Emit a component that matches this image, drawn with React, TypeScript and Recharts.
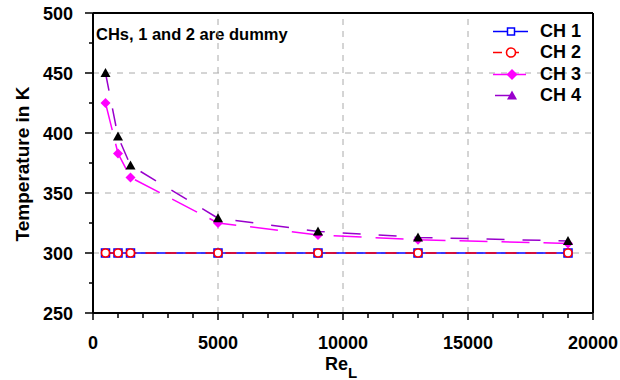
import { LineChart, Line, XAxis, YAxis, ReferenceLine, Legend, Customized } from "recharts";

const FONT = "'Liberation Sans', Arial, sans-serif";

const reL = [500, 1000, 1500, 5000, 9000, 13000, 19000];
const ch1 = [300, 300, 300, 300, 300, 300, 300];
const ch2 = [300, 300, 300, 300, 300, 300, 300];
const ch3 = [425, 383, 363, 325, 315, 311, 308];
const ch4 = [450, 397, 373, 329, 318, 313, 310];

const xTicks = [
  0, 1000, 2000, 3000, 4000, 5000, 6000, 7000, 8000, 9000, 10000,
  11000, 12000, 13000, 14000, 15000, 16000, 17000, 18000, 19000, 20000,
];
const yTicks = [250, 275, 300, 325, 350, 375, 400, 425, 450, 475, 500];
const xGrid = [5000, 10000, 15000];
const yGrid = [300, 350, 400, 450];
const seriesNames = ["CH 1", "CH 2", "CH 3", "CH 4"];
const note = "CHs, 1 and 2 are dummy";

const data = reL.map((x, i) => ({ x, ch1: ch1[i], ch2: ch2[i], ch3: ch3[i], ch4: ch4[i] }));

const COLORS = { ch1: "#0000ff", ch2: "#ff0000", ch3: "#ff00ff", ch4: "#9900cc" };

function Square({ cx, cy, size = 8, color = COLORS.ch1 }: any) {
  return <rect x={cx - size / 2} y={cy - size / 2} width={size} height={size} fill="#fff" stroke={color} strokeWidth={1.5} />;
}
function Ring({ cx, cy, r = 4, color = COLORS.ch2 }: any) {
  return <circle cx={cx} cy={cy} r={r} fill="#fff" stroke={color} strokeWidth={1.6} />;
}
function Diamond({ cx, cy, s = 5, color = COLORS.ch3 }: any) {
  return <polygon points={`${cx},${cy - s} ${cx + s},${cy} ${cx},${cy + s} ${cx - s},${cy}`} fill={color} />;
}
function Triangle({ cx, cy, s = 5, color = "#000" }: any) {
  return <polygon points={`${cx},${cy - s} ${cx + s},${cy + s - 1} ${cx - s},${cy + s - 1}`} fill={color} />;
}

const dotOf = (Shape: any) => (p: any) => <Shape key={p.index} cx={p.cx} cy={p.cy} />;

function YTick({ x, y, payload }: any) {
  const major = payload.value % 50 === 0;
  return (
    <g>
      <line x1={x} x2={x - (major ? 8 : 4)} y1={y} y2={y} stroke="#000" strokeWidth={1.5} />
      {major && (
        <text x={x - 20} y={y + 6.5} textAnchor="end" fontFamily={FONT} fontWeight={700} fontSize={18} fill="#000">
          {payload.value}
        </text>
      )}
    </g>
  );
}

function XTick({ x, y, payload }: any) {
  const major = payload.value % 5000 === 0;
  return (
    <g>
      <line x1={x} x2={x} y1={y} y2={y + (major ? 7 : 5)} stroke="#000" strokeWidth={1.5} />
      {major && (
        <text x={x} y={y + 36} textAnchor="middle" fontFamily={FONT} fontWeight={700} fontSize={18} fill="#000">
          {payload.value}
        </text>
      )}
    </g>
  );
}

function LegendBox() {
  const marks = [
    <g key="a"><line x1={3} x2={38} y1={10.5} y2={10.5} stroke={COLORS.ch1} strokeWidth={1.5} /><Square cx={21} cy={10.5} size={7} /></g>,
    <g key="b"><line x1={3} x2={34} y1={10.5} y2={10.5} stroke={COLORS.ch2} strokeWidth={1.5} strokeDasharray="9 8" /><Ring cx={21} cy={10.5} r={4.5} /></g>,
    <g key="c"><line x1={3} x2={36} y1={10.5} y2={10.5} stroke={COLORS.ch3} strokeWidth={1.5} /><Diamond cx={22} cy={10.5} s={5.5} /></g>,
    <g key="d"><line x1={5} x2={22} y1={10.5} y2={10.5} stroke={COLORS.ch4} strokeWidth={1.5} /><Triangle cx={22} cy={10.5} s={5} color={COLORS.ch4} /></g>,
  ];
  return (
    <div style={{ fontFamily: FONT, fontWeight: 700, fontSize: 18, color: "#000" }}>
      {seriesNames.map((name, i) => (
        <div key={name} style={{ display: "flex", alignItems: "center", height: 21.3 }}>
          <svg width={50} height={21} style={{ display: "block" }}>{marks[i]}</svg>
          <span style={{ lineHeight: "21px" }}>{name}</span>
        </div>
      ))}
    </div>
  );
}

export default function App() {
  return (
    <div style={{ position: "absolute", left: 0, top: 0, width: 620, height: 380, background: "#fff" }}>
      <LineChart width={620} height={380} data={data} margin={{ top: 13, right: 27, left: 0, bottom: 0 }}>
        {xGrid.map((v) => (
          <ReferenceLine key={"gx" + v} x={v} stroke="#aaaaaa" strokeDasharray="6 6" strokeWidth={1} />
        ))}
        {yGrid.map((v) => (
          <ReferenceLine key={"gy" + v} y={v} stroke="#aaaaaa" strokeDasharray="6 6" strokeWidth={1} />
        ))}
        <ReferenceLine y={500} stroke="#000" strokeWidth={2} />
        <ReferenceLine x={20000} stroke="#000" strokeWidth={2} />
        <XAxis
          dataKey="x"
          type="number"
          domain={[0, 20000]}
          ticks={xTicks}
          interval={0}
          height={67}
          tickSize={0}
          tickMargin={0}
          tickLine={false}
          tick={<XTick />}
          axisLine={{ stroke: "#000", strokeWidth: 2 }}
          label={({ viewBox }: any) => (
            <text x={viewBox.x + viewBox.width / 2 - 2} y={viewBox.y + 57} textAnchor="middle" fontFamily={FONT} fontWeight={700} fontSize={18} fill="#000">
              Re<tspan dy={8} fontSize={15}>L</tspan>
            </text>
          )}
        />
        <YAxis
          type="number"
          domain={[250, 500]}
          ticks={yTicks}
          interval={0}
          width={93}
          tickSize={0}
          tickMargin={0}
          tickLine={false}
          tick={<YTick />}
          axisLine={{ stroke: "#000", strokeWidth: 2 }}
          label={({ viewBox }: any) => {
            const cy = viewBox.y + viewBox.height / 2 + 1;
            return (
              <text x={29} y={cy} transform={`rotate(-90 29 ${cy})`} textAnchor="middle" fontFamily={FONT} fontWeight={700} fontSize={19} fill="#000">
                Temperature in K
              </text>
            );
          }}
        />
        <Line dataKey="ch1" name={seriesNames[0]} stroke={COLORS.ch1} strokeWidth={1.5} dot={dotOf(Square)} activeDot={false} isAnimationActive={false} />
        <Line dataKey="ch2" name={seriesNames[1]} stroke={COLORS.ch2} strokeWidth={1.5} strokeDasharray="11 9" dot={dotOf(Ring)} activeDot={false} isAnimationActive={false} />
        <Line dataKey="ch3" name={seriesNames[2]} stroke={COLORS.ch3} strokeWidth={1.5} strokeDasharray="28 14" dot={dotOf(Diamond)} activeDot={false} isAnimationActive={false} />
        <Line dataKey="ch4" name={seriesNames[3]} stroke={COLORS.ch4} strokeWidth={1.5} strokeDasharray="18 18" dot={dotOf(Triangle)} activeDot={false} isAnimationActive={false} />
        <Legend
          layout="vertical"
          align="center"
          verticalAlign="middle"
          content={() => <LegendBox />}
          wrapperStyle={{ top: 21, left: 490, width: 110, height: 90 }}
        />
        <Customized
          component={() => (
            <text x={96} y={40} fontFamily={FONT} fontWeight={700} fontSize={16.5} fill="#000">
              {note}
            </text>
          )}
        />
      </LineChart>
    </div>
  );
}
